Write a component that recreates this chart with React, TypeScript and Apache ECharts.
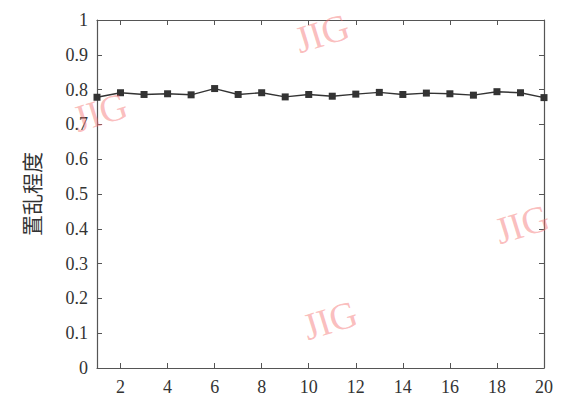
import React, { useEffect, useRef } from "react";
import * as echarts from "echarts";

const categories = ["1","2","3","4","5","6","7","8","9","10","11","12","13","14","15","16","17","18","19","20"];
const scrambleDegree = [0.778,0.791,0.786,0.788,0.785,0.803,0.786,0.791,0.779,0.786,0.781,0.787,0.792,0.786,0.790,0.788,0.784,0.794,0.791,0.777];
const yLabel = "置乱程度";
const watermark = "JIG";

export default function App() {
  const ref = useRef<HTMLDivElement>(null);
  useEffect(() => {
    if (!ref.current) return;
    const chart = echarts.init(ref.current, null, { renderer: "svg" });
    const serif = "'Liberation Serif', 'Times New Roman', serif";
    const axisColor = "#555";
    const evenIdx = (i: number) => i % 2 === 1;
    const wm = (x: number, y: number) => ({
      type: "text",
      x, y,
      rotation: 0.3,
      z: 100,
      style: { text: watermark, font: "38px 'Liberation Serif', serif", fill: "rgba(245,110,110,0.45)", textAlign: "center", textVerticalAlign: "middle" },
    });
    chart.setOption({
      animation: false,
      backgroundColor: "#fff",
      grid: { left: 97, right: 19, top: 20, bottom: 39 },
      xAxis: [
        {
          type: "category",
          data: categories,
          boundaryGap: false,
          axisLine: { lineStyle: { color: axisColor, width: 1.2 } },
          axisTick: { inside: true, length: 5, interval: evenIdx, lineStyle: { color: axisColor } },
          axisLabel: { interval: evenIdx, color: "#333", fontFamily: serif, fontSize: 18, margin: 10 },
          splitLine: { show: false },
        },
        {
          type: "category",
          data: categories,
          position: "top",
          boundaryGap: false,
          axisLine: { onZero: false, lineStyle: { color: axisColor, width: 1.2 } },
          axisTick: { inside: true, length: 5, interval: evenIdx, lineStyle: { color: axisColor } },
          axisLabel: { show: false },
          splitLine: { show: false },
        },
      ],
      yAxis: [
        {
          type: "value",
          min: 0,
          max: 1,
          interval: 0.1,
          name: yLabel,
          nameLocation: "middle",
          nameRotate: 90,
          nameGap: 56,
          nameTextStyle: { fontFamily: "'Noto Sans CJK SC'", fontSize: 21, color: "#333" },
          axisLine: { show: true, lineStyle: { color: axisColor, width: 1.2 } },
          axisTick: { show: true, inside: true, length: 5, lineStyle: { color: axisColor } },
          axisLabel: {
            color: "#333", fontFamily: serif, fontSize: 18, margin: 9,
            formatter: (v: number) => String(Math.round(v * 10) / 10),
          },
          splitLine: { show: false },
        },
        {
          type: "value",
          min: 0,
          max: 1,
          interval: 0.1,
          position: "right",
          axisLine: { show: true, onZero: false, lineStyle: { color: axisColor, width: 1.2 } },
          axisTick: { show: true, inside: true, length: 5, lineStyle: { color: axisColor } },
          axisLabel: { show: false },
          splitLine: { show: false },
        },
      ],
      series: [
        {
          type: "line",
          data: scrambleDegree,
          symbol: "rect",
          symbolSize: 7,
          lineStyle: { color: "#333", width: 1.4 },
          itemStyle: { color: "#333" },
        },
      ],
      graphic: [wm(322, 33), wm(100, 112), wm(330, 320), wm(522, 224)],
    });
    return () => chart.dispose();
  }, []);
  return (
    <div
      ref={ref}
      style={{ position: "fixed", left: 0, top: 0, width: 563, height: 407 }}
    />
  );
}
